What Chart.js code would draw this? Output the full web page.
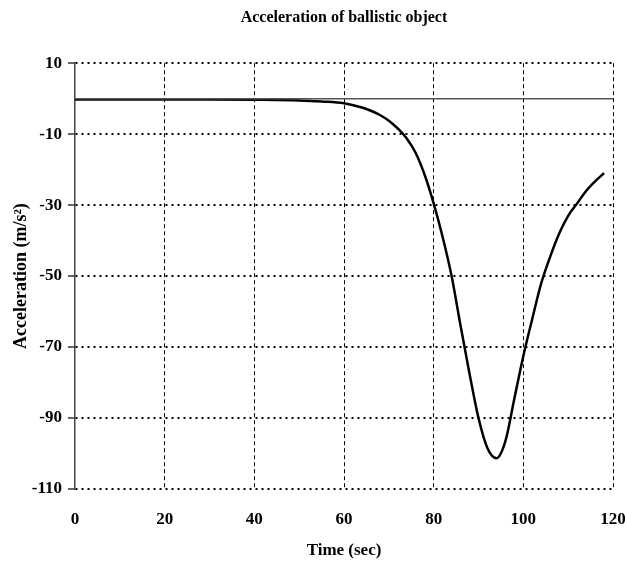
<!DOCTYPE html>
<html>
<head>
<meta charset="utf-8">
<script src="https://cdn.jsdelivr.net/npm/chart.js@4/dist/chart.umd.min.js"></script>
<style>
  html, body { margin: 0; padding: 0; background: #fff; }
  #wrap { width: 625px; height: 565px; }
</style>
</head>
<body>
<div id="wrap"><canvas id="accelChart" width="625" height="565"></canvas></div>
<script>
'use strict';
// values
const timeSec = [0, 10, 20, 30, 40, 50, 55, 60, 64, 66, 68, 70, 72, 74, 76, 78, 80, 82, 84, 86, 88, 90,
                 92, 94, 96, 98, 100, 102, 104, 106, 108, 110, 112, 114, 116, 118];
const accel = [-0.2, -0.2, -0.2, -0.2, -0.3, -0.5, -0.8, -1.3, -2.5, -3.4, -4.6, -6.2, -8.4, -11.2, -15.3, -21.5,
               -29.5, -39, -50, -64, -77.5, -90, -98.5, -101.3, -96.5, -84.5, -72.5, -62, -52, -44.5, -38,
               -33, -29.5, -26, -23.3, -21];
const zeroX = [0, 120];
const zeroY = [0, 0];
const xTicks = { min: 0, max: 120, step: 20 };
const yTicks = { min: -110, max: 10, step: 20 };

const FONT = "'Liberation Serif', 'Times New Roman', serif";

const toPoints = (xs, ys) => xs.map((x, i) => ({ x: x, y: ys[i] }));

new Chart(document.getElementById('accelChart'), {
    type: 'line',
    data: {
        datasets: [
            {
                data: toPoints(zeroX, zeroY),
                borderColor: '#555',
                borderWidth: 1.5,
                pointRadius: 0,
                tension: 0
            },
            {
                data: toPoints(timeSec, accel),
                borderColor: '#000',
                borderWidth: 2.5,
                pointRadius: 0,
                cubicInterpolationMode: 'monotone'
            }
        ]
    },
    options: {
        responsive: false,
        animation: false,
        layout: { padding: { left: 0, right: 12, top: 0, bottom: 0 } },
        plugins: {
            legend: { display: false },
            tooltip: { enabled: false },
            title: {
                display: true,
                fullSize: false,
                text: 'Acceleration of ballistic object',
                color: '#000',
                font: { family: FONT, size: 16, weight: 'bold' },
                padding: { top: 8, bottom: 36 }
            }
        },
        scales: {
            x: {
                type: 'linear',
                min: xTicks.min,
                max: xTicks.max,
                ticks: {
                    stepSize: xTicks.step,
                    color: '#000',
                    padding: 20,
                    font: { family: FONT, size: 17, weight: 'bold' }
                },
                grid: {
                    // the left edge is the solid y axis, no dashed line on it
                    color: c => (c.tick && c.tick.value === xTicks.min) ? 'rgba(0,0,0,0)' : '#000',
                    lineWidth: 1,
                    drawTicks: false
                },
                border: { display: false, dash: [4, 3] },
                title: {
                    display: true,
                    text: 'Time (sec)',
                    color: '#000',
                    font: { family: FONT, size: 17, weight: 'bold' },
                    padding: { top: 0, bottom: 4 }
                },
                afterFit: s => { s.height = 76; s.paddingLeft = 0; s.paddingRight = 12; }
            },
            y: {
                min: yTicks.min,
                max: yTicks.max,
                ticks: {
                    stepSize: yTicks.step,
                    color: '#000',
                    padding: 6,
                    font: { family: FONT, size: 17, weight: 'bold' }
                },
                grid: {
                    color: '#000',
                    lineWidth: 2,
                    tickLength: 7,
                    tickColor: '#333',
                    tickWidth: 1.5,
                    tickBorderDash: []
                },
                border: { display: true, color: '#444', width: 1.5, dash: [2, 4] },
                title: {
                    display: true,
                    text: 'Acceleration (m/s²)',
                    color: '#000',
                    font: { family: FONT, size: 18, weight: 'bold' },
                    padding: { top: 11, bottom: 0 }
                },
                afterFit: s => { s.width = 75; }
            }
        }
    }
});
</script>
</body>
</html>
